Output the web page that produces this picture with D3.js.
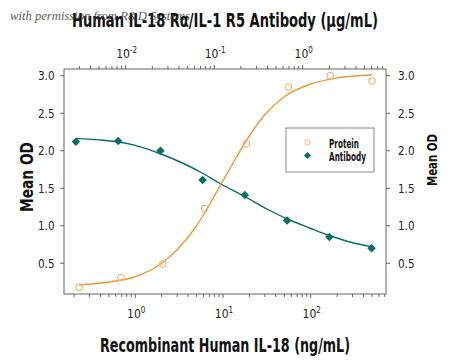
<!DOCTYPE html>
<html><head><meta charset="utf-8">
<script src="https://cdn.jsdelivr.net/npm/d3@7"></script>
<style>
html,body{margin:0;padding:0;background:#fff;}
svg{display:block;}
text{font-family:"DejaVu Sans Condensed","Liberation Sans Narrow","Roboto Condensed","DejaVu Sans",sans-serif;font-stretch:condensed;}
</style></head>
<body><svg id="c" width="450" height="360"></svg>
<script>
// ---- data ----
const proteinX = [0.229, 0.686, 2.06, 6.17, 18.5, 55.6, 166.7, 500];           // ng/mL
const proteinY = [0.18, 0.31, 0.49, 1.23, 2.09, 2.85, 3.00, 2.93];
const antibodyX = [0.00274, 0.00823, 0.0247, 0.074, 0.222, 0.667, 2.0, 6.0];    // µg/mL
const antibodyY = [2.12, 2.13, 2.00, 1.61, 1.41, 1.07, 0.85, 0.70];
// fitted curves
const proteinFitX = [0.229, 0.5, 1, 2, 3, 5, 7, 10, 14, 20, 30, 50, 100, 200, 500];
const proteinFitY = [0.21, 0.25, 0.32, 0.50, 0.68, 1.00, 1.28, 1.60, 1.90, 2.20, 2.48, 2.72, 2.89, 2.97, 3.01];
const antibodyFitX = [0.00274, 0.005, 0.0079, 0.0125, 0.0246, 0.045, 0.074, 0.118, 0.221, 0.4, 0.67, 1.2, 2.0, 3.5, 6.0];
const antibodyFitY = [2.165, 2.145, 2.12, 2.075, 1.96, 1.83, 1.70, 1.56, 1.39, 1.22, 1.09, 0.97, 0.87, 0.78, 0.72];
const yTicks = [0.5, 1.0, 1.5, 2.0, 2.5, 3.0];
const bottomMajor = [1, 10, 100];
const bottomExp = ["0", "1", "2"];
const topMajor = [0.01, 0.1, 1];
const topExp = ["-2", "-1", "0"];
const seriesNames = ["Protein", "Antibody"];

const ORANGE = "#EE9A3A", ORANGE_PT = "#F2B070", TEAL = "#0B6E60";
const L = 64, R = 386, T = 69, B = 294;

const svg = d3.select("#c");
const xB = d3.scaleLog().domain([0.154, 722]).range([L, R]);
const xT = d3.scaleLog().domain([0.00201, 8.73]).range([L, R]);
const y = d3.scaleLinear().domain([0.09, 3.09]).range([B, T]);

const axisColor = "#666";
// frame
svg.append("rect").attr("x", L).attr("y", T).attr("width", R - L).attr("height", B - T)
  .attr("fill", "none").attr("stroke", axisColor).attr("stroke-width", 1);

function powLabel(x, yb, exp) {
  const t = svg.append("text").attr("x", x).attr("y", yb).attr("text-anchor", "middle")
    .attr("font-size", 12).attr("fill", "#222");
  t.append("tspan").text("10");
  t.append("tspan").attr("dy", -5).attr("font-size", 8).text(exp);
}

// bottom log ticks
const bt = xB.ticks().filter(v => v >= 0.154 && v <= 722);
svg.append("g").selectAll("line").data(bt).join("line")
  .attr("x1", d => xB(d)).attr("x2", d => xB(d)).attr("y1", B)
  .attr("y2", d => B + (bottomMajor.includes(d) ? 4 : 3)).attr("stroke", axisColor);
bottomMajor.forEach((v, i) => powLabel(xB(v) + 1, 318, bottomExp[i]));
// top log ticks
const tt = xT.ticks().filter(v => v >= 0.00201 && v <= 8.73);
svg.append("g").selectAll("line").data(tt).join("line")
  .attr("x1", d => xT(d)).attr("x2", d => xT(d)).attr("y1", T)
  .attr("y2", d => T - (topMajor.some(m => Math.abs(m - d) < 1e-9) ? 4 : 3)).attr("stroke", axisColor);
topMajor.forEach((v, i) => powLabel(xT(v) + 1, 58, topExp[i]));
// y ticks both sides
yTicks.forEach(v => {
  svg.append("line").attr("x1", L - 4).attr("x2", L).attr("y1", y(v)).attr("y2", y(v)).attr("stroke", axisColor);
  svg.append("line").attr("x1", R).attr("x2", R + 4).attr("y1", y(v)).attr("y2", y(v)).attr("stroke", axisColor);
  svg.append("text").attr("x", 38).attr("y", y(v) + 4.5).attr("text-anchor", "start")
    .attr("font-size", 13).attr("fill", "#222")
    .attr("textLength", 16.5).attr("lengthAdjust", "spacingAndGlyphs").text(v.toFixed(1));
  svg.append("text").attr("x", 398).attr("y", y(v) + 4.5).attr("text-anchor", "start")
    .attr("font-size", 13).attr("fill", "#222")
    .attr("textLength", 16.5).attr("lengthAdjust", "spacingAndGlyphs").text(v.toFixed(1));
});

// curves
const lineB = d3.line().x(d => xB(d[0])).y(d => y(d[1])).curve(d3.curveMonotoneX);
const lineT = d3.line().x(d => xT(d[0])).y(d => y(d[1])).curve(d3.curveMonotoneX);
svg.append("path").attr("d", lineT(d3.zip(antibodyFitX, antibodyFitY)))
  .attr("fill", "none").attr("stroke", TEAL).attr("stroke-width", 1.4);
svg.append("path").attr("d", lineB(d3.zip(proteinFitX, proteinFitY)))
  .attr("fill", "none").attr("stroke", ORANGE).attr("stroke-width", 1.4);

// points
const diamond = d3.symbol().type(d3.symbolSquare).size(36);
svg.append("g").selectAll("path").data(d3.zip(antibodyX, antibodyY)).join("path")
  .attr("d", diamond).attr("transform", d => `translate(${xT(d[0])},${y(d[1])}) rotate(45)`)
  .attr("fill", TEAL);
svg.append("g").selectAll("circle").data(d3.zip(proteinX, proteinY)).join("circle")
  .attr("cx", d => xB(d[0])).attr("cy", d => y(d[1])).attr("r", 3.2)
  .attr("fill", "none").attr("stroke", ORANGE_PT).attr("stroke-width", 1.1);

// legend
const lg = svg.append("g");
lg.append("rect").attr("x", 286).attr("y", 128).attr("width", 88).attr("height", 44)
  .attr("fill", "#fff").attr("stroke", "#8a8a8a").attr("stroke-width", 1);
lg.append("circle").attr("cx", 307.5).attr("cy", 142.5).attr("r", 2.6)
  .attr("fill", "none").attr("stroke", ORANGE_PT).attr("stroke-width", 1);
lg.append("path").attr("d", d3.symbol().type(d3.symbolSquare).size(24))
  .attr("transform", "translate(307.5,155.5) rotate(45)").attr("fill", TEAL);
lg.append("text").attr("x", 329).attr("y", 147.5).attr("font-size", 12).attr("font-weight", "bold").attr("fill", "#111")
  .attr("textLength", 30).attr("lengthAdjust", "spacingAndGlyphs").text(seriesNames[0]);
lg.append("text").attr("x", 329).attr("y", 160.5).attr("font-size", 12).attr("font-weight", "bold").attr("fill", "#111")
  .attr("textLength", 37).attr("lengthAdjust", "spacingAndGlyphs").text(seriesNames[1]);

// titles
svg.append("text").attr("x", 225).attr("y", 26.5).attr("text-anchor", "middle")
  .attr("font-size", 20).attr("font-weight", "bold").attr("fill", "#111")
  .attr("textLength", 306).attr("lengthAdjust", "spacingAndGlyphs")
  .text("Human IL-18 R\u03B1/IL-1 R5 Antibody (\u03BCg/mL)");
svg.append("text").attr("x", 225).attr("y", 352).attr("text-anchor", "middle")
  .attr("font-size", 19).attr("font-weight", "bold").attr("fill", "#111")
  .attr("textLength", 250).attr("lengthAdjust", "spacingAndGlyphs")
  .text("Recombinant Human IL-18 (ng/mL)");
svg.append("text").attr("transform", "translate(33,177) rotate(-90)").attr("text-anchor", "middle")
  .attr("font-size", 18).attr("font-weight", "bold").attr("fill", "#111")
  .attr("textLength", 70).attr("lengthAdjust", "spacingAndGlyphs").text("Mean OD");
svg.append("text").attr("transform", "translate(437,160) rotate(-90)").attr("text-anchor", "middle")
  .attr("font-size", 14).attr("font-weight", "bold").attr("fill", "#111")
  .attr("textLength", 52).attr("lengthAdjust", "spacingAndGlyphs").text("Mean OD");

// watermark
svg.append("text").attr("x", 10).attr("y", 20).attr("font-size", 11.5)
  .attr("font-style", "italic").attr("fill", "#333").attr("opacity", 0.8)
  .style("font-family", "'Liberation Serif','DejaVu Serif',serif").style("font-stretch", "normal")
  .attr("textLength", 180).attr("lengthAdjust", "spacingAndGlyphs")
  .text("with permission from R&D Systems");
</script></body></html>
